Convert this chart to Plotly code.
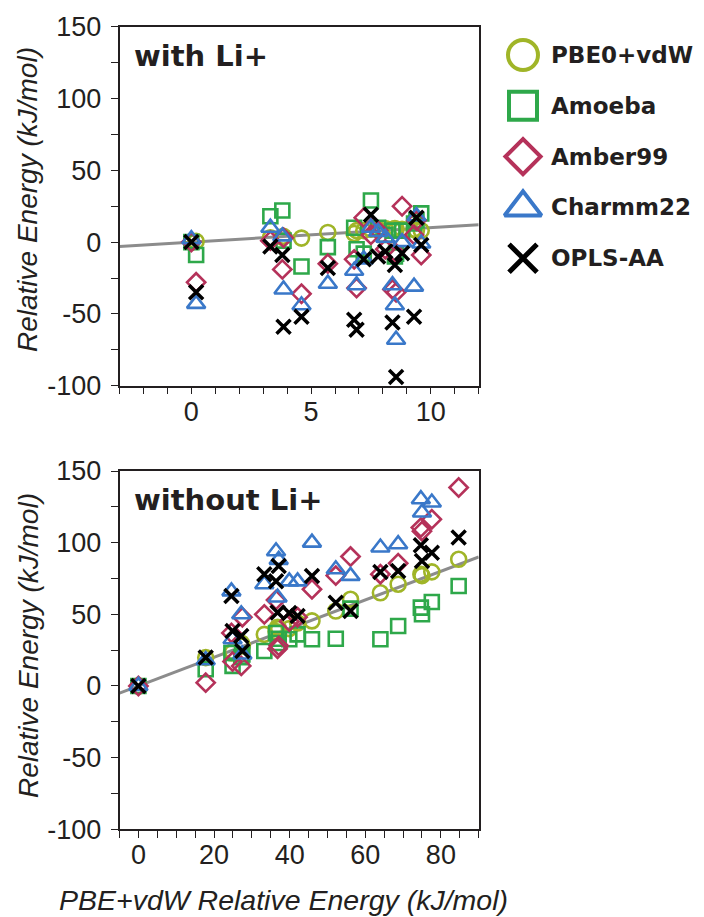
import plotly.graph_objects as go

# ---------------- data ----------------
SERIES = ["PBE0+vdW", "Amoeba", "Amber99", "Charmm22", "OPLS-AA"]

# top panel: with Li+
TOP_X = [0, 0.2, 3.3, 3.8, 3.85, 4.6, 5.7, 6.8, 6.9, 7.2, 7.5, 7.8, 8.1, 8.4, 8.5, 8.55, 8.8, 9.3, 9.4, 9.6]
TOP_PBE0 = [0, 0.5, 3, 3.5, 4, 2.8, 6.7, 6, 8, 8, 9, 9, 9.5, 9, 9.5, 9, 9, 9, 8, 8]
TOP_AMOEBA = [0, -9, 18, 22, 1, -17, -3.5, 10, -5, -8, 29, 10, 5, 8, -10, -8, 8, 13, 15, 20]
TOP_AMBER = [0, -28, 1, -19, 3, -36, -15, -12, -32, 17, 5, 8, -5, -33, -7, -35, 25, 5, 15, -9]
TOP_CHARMM = [2, -43, 10, 4, -33, -44, -29, -20, -30, -12, 10, 7, 3, -30, -44, -68, 0, -31, 18, -1]
TOP_OPLS = [0, -35, -3, -9, -59, -52, -18, -54, -61, -12, 19, -10, -6.5, -56, -16, -94, -7.7, -52, 17, -2]

# bottom panel: without Li+
BOT_X = [0, 17.8, 24.6, 24.9, 27.2, 27.5, 33.3, 36.4, 37.1, 36.8, 39.9, 42.1, 45.9, 52.2, 56.1, 64.0, 68.7, 74.7, 75.0, 77.6, 84.7]
BOT_PBE0 = [0, 19.8, 23, 24, 30, 28, 36, 38, 40, 41, 40, 44, 45.4, 52.3, 60.5, 65, 71, 78, 77, 79.6, 88.4]
BOT_AMOEBA = [0, 11.7, 23, 14, 20, 22, 24.4, 37, 33, 30, 32.6, 36, 32.6, 33, 54, 32.6, 41.9, 54.7, 50, 58.6, 69.8]
BOT_AMBER = [0, 2.3, 37, 17, 14, 48, 50, 60, 28, 26, 45, 48, 67.5, 77, 90.3, 78, 85.6, 110.5, 108, 116.3, 138.5]
BOT_CHARMM = [0, 18, 66, 32.6, 50, 22, 71, 94, 88, 61.7, 73, 73, 100, 81.4, 76.8, 96.6, 98.9, 130.3, 121, 128, None]
BOT_OPLS = [0, 19.8, 62.8, 38.4, 34.9, 24.4, 78, 73, 83.7, 51.2, 51, 48.8, 76.8, 58, 52.3, 79.6, 80.3, 98.2, 87.2, 93, 103.6]

TOP_XRANGE = [-3, 12]
BOT_XRANGE = [-5, 90]
YRANGE = [-100, 150]
TOP_XTICKS = list(range(-3, 13))
TOP_XLABELS = [0, 5, 10]
BOT_XTICKS = list(range(-5, 91, 5))
BOT_XLABELS = [0, 20, 40, 60, 80]
YTICKS = list(range(-100, 151, 25))
YLABELS = [-100, -50, 0, 50, 100, 150]

# ---------------- style ----------------
COLORS = ["#a0b528", "#2ea84a", "#b5325a", "#3a78c9", "#000000"]
SYMBOLS = ["circle-open", "square-open", "diamond-open", "triangle-up-open", "x-thin-open"]
SIZES = [15, 14, 14, 16, 14]
LWIDTH = [2.6, 2.6, 2.6, 2.6, 3.5]
LEG_SIZES = [30, 28, 27, 32, 28]
LEG_LWIDTH = [4, 4, 4, 4, 5]
FONT = "Liberation Sans, Arial, sans-serif"
BFONT = "DejaVu Sans, sans-serif"
TXT = "#231f20"

W, H = 704, 917
OFF = 8  # page body margin

def px_x(p):
    return (p - OFF) / W

def px_y(p):
    return 1 - (p - OFF) / H

fig = go.Figure()

top_sets = [TOP_PBE0, TOP_AMOEBA, TOP_AMBER, TOP_CHARMM, TOP_OPLS]
bot_sets = [BOT_PBE0, BOT_AMOEBA, BOT_AMBER, BOT_CHARMM, BOT_OPLS]

# identity lines
fig.add_trace(go.Scatter(x=TOP_XRANGE, y=TOP_XRANGE, mode="lines",
                         line=dict(color="#8c8c8c", width=3), xaxis="x", yaxis="y",
                         showlegend=False, hoverinfo="skip"))
fig.add_trace(go.Scatter(x=BOT_XRANGE, y=BOT_XRANGE, mode="lines",
                         line=dict(color="#8c8c8c", width=3), xaxis="x2", yaxis="y2",
                         showlegend=False, hoverinfo="skip"))

for i, name in enumerate(SERIES):
    mk = dict(symbol=SYMBOLS[i], size=SIZES[i], color=COLORS[i],
              line=dict(color=COLORS[i], width=LWIDTH[i]))
    fig.add_trace(go.Scatter(x=TOP_X, y=top_sets[i], mode="markers", marker=mk,
                             name=name, xaxis="x", yaxis="y", showlegend=False))
    fig.add_trace(go.Scatter(x=BOT_X, y=bot_sets[i], mode="markers", marker=mk,
                             name=name, xaxis="x2", yaxis="y2", showlegend=False))
    # custom legend symbols
    fig.add_trace(go.Scatter(x=[0], y=[i], mode="markers",
                             marker=dict(symbol=SYMBOLS[i], size=LEG_SIZES[i], color=COLORS[i],
                                         line=dict(color=COLORS[i], width=LEG_LWIDTH[i])),
                             xaxis="x3", yaxis="y3", showlegend=False, hoverinfo="skip"))


def tick_text(vals, labeled):
    return [str(v) if v in labeled else "" for v in vals]


axis_common = dict(showgrid=False, zeroline=False, showline=True, mirror=True,
                   linecolor="#231f20", linewidth=1.5, ticks="outside", ticklen=7,
                   tickwidth=1.3, tickcolor="#231f20", automargin=False,
                   tickfont=dict(family=FONT, size=27, color=TXT), tickmode="array")
x_extra = dict(ticklabelstandoff=-6)
y_extra = dict(ticklabelstandoff=4)

x_dom = [px_x(119.5), px_x(478.7)]
layout = dict(
    template="none",
    width=W, height=H, margin=dict(l=0, r=0, t=0, b=0, pad=0, autoexpand=False),
    plot_bgcolor="white", paper_bgcolor="white", showlegend=False,
    xaxis=dict(domain=x_dom, range=TOP_XRANGE, tickvals=TOP_XTICKS,
               ticktext=tick_text(TOP_XTICKS, TOP_XLABELS), anchor="y", **axis_common, **x_extra),
    yaxis=dict(domain=[px_y(385.7), px_y(26.7)], range=YRANGE, tickvals=YTICKS,
               ticktext=tick_text(YTICKS, YLABELS), anchor="x", **axis_common, **y_extra),
    xaxis2=dict(domain=x_dom, range=BOT_XRANGE, tickvals=BOT_XTICKS,
                ticktext=tick_text(BOT_XTICKS, BOT_XLABELS), anchor="y2", **axis_common, **x_extra),
    yaxis2=dict(domain=[px_y(829.3), px_y(471)], range=YRANGE, tickvals=YTICKS,
                ticktext=tick_text(YTICKS, YLABELS), anchor="x2", **axis_common, **y_extra),
    xaxis3=dict(domain=[px_x(480), px_x(704)], range=[-43, 181], visible=False, anchor="y3"),
    yaxis3=dict(domain=[px_y(283.6), px_y(29.6)], range=[4.5, -0.5], visible=False, anchor="x3"),
)
fig.update_layout(**layout)

ann = []
for i, name in enumerate(SERIES):
    ann.append(dict(x=26, y=i, xref="x3", yref="y3", text="<b>%s</b>" % name,
                    showarrow=False, xanchor="left", yanchor="middle",
                    font=dict(family=BFONT, size=23, color=TXT)))
ann.append(dict(x=px_x(132), y=px_y(56), xref="paper", yref="paper", text="<b>with Li+</b>",
                showarrow=False, xanchor="left", yanchor="middle",
                font=dict(family=BFONT, size=29, color=TXT)))
ann.append(dict(x=px_x(132), y=px_y(500), xref="paper", yref="paper", text="<b>without Li+</b>",
                showarrow=False, xanchor="left", yanchor="middle",
                font=dict(family=BFONT, size=29, color=TXT)))
for yc in [200, 646]:
    ann.append(dict(x=px_x(28), y=px_y(yc), xref="paper", yref="paper",
                    text="<i>Relative Energy (kJ/mol)</i>", textangle=-90,
                    showarrow=False, xanchor="center", yanchor="middle",
                    font=dict(family=FONT, size=28, color=TXT)))
ann.append(dict(x=px_x(283), y=px_y(900), xref="paper", yref="paper",
                text="<i>PBE+vdW Relative Energy (kJ/mol)</i>",
                showarrow=False, xanchor="center", yanchor="middle",
                font=dict(family=FONT, size=28.5, color=TXT)))
fig.update_layout(annotations=ann)

fig.write_html("out.html")
